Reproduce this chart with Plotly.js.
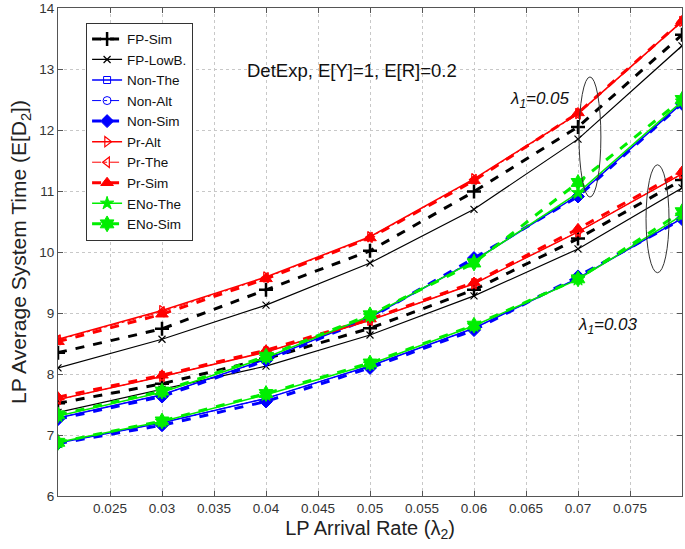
<!DOCTYPE html>
<html>
<head>
<meta charset="utf-8">
<script src="https://cdn.plot.ly/plotly-3.0.1.min.js"></script>
<style>html,body{margin:0;padding:0;background:#fff;}#chart{width:685px;height:549px;}</style>
</head>
<body>
<div id="chart"></div>
<script>
// x values: LP arrival rate lambda_2
const lambda2 = [0.02, 0.03, 0.04, 0.05, 0.06, 0.07, 0.08];
const xTickVals = [0.025, 0.03, 0.035, 0.04, 0.045, 0.05, 0.055, 0.06, 0.065, 0.07, 0.075];
const xTickText = ["0.025", "0.03", "0.035", "0.04", "0.045", "0.05", "0.055", "0.06", "0.065", "0.07", "0.075"];
const seriesNames = ["FP-Sim", "FP-LowB.", "Non-The", "Non-Alt", "Non-Sim", "Pr-Alt", "Pr-The", "Pr-Sim", "ENo-The", "ENo-Sim"];

// lambda_1 = 0.05 group
const fpSim05   = [8.35, 8.74, 9.38, 10.02, 10.99, 12.05, 13.56];
const fpLow05   = [8.10, 8.57, 9.13, 9.82, 10.70, 11.85, 13.38];
const nonThe05  = [7.28, 7.66, 8.24, 8.93, 9.86, 10.93, 12.44];
const nonAlt05  = [7.28, 7.66, 8.24, 8.93, 9.87, 10.93, 12.45];
const nonSim05  = [7.26, 7.63, 8.22, 8.92, 9.90, 10.91, 12.43];
const prAlt05   = [8.57, 9.04, 9.59, 10.25, 11.20, 12.27, 13.78];
const prThe05   = [8.56, 9.02, 9.58, 10.24, 11.19, 12.26, 13.78];
const prSim05   = [8.53, 8.98, 9.56, 10.23, 11.17, 12.28, 13.79];
const enoThe05  = [7.31, 7.70, 8.27, 8.95, 9.85, 10.97, 12.47];
const enoSim05  = [7.33, 7.72, 8.29, 8.97, 9.82, 11.14, 12.50];

// lambda_1 = 0.03 group
const fpSim03   = [7.52, 7.84, 8.25, 8.75, 9.38, 10.22, 11.18];
const fpLow03   = [7.37, 7.75, 8.13, 8.64, 9.28, 10.05, 11.05];
const nonThe03  = [6.87, 7.20, 7.60, 8.13, 8.75, 9.57, 10.55];
const nonAlt03  = [6.87, 7.20, 7.60, 8.13, 8.75, 9.57, 10.55];
const nonSim03  = [6.86, 7.16, 7.55, 8.10, 8.72, 9.60, 10.54];
const prAlt03   = [7.58, 7.96, 8.36, 8.88, 9.48, 10.33, 11.28];
const prThe03   = [7.58, 7.96, 8.36, 8.88, 9.48, 10.33, 11.28];
const prSim03   = [7.62, 7.98, 8.39, 8.90, 9.50, 10.38, 11.32];
const enoThe03  = [6.88, 7.22, 7.66, 8.16, 8.79, 9.55, 10.60];
const enoSim03  = [6.88, 7.23, 7.68, 8.18, 8.80, 9.56, 10.66];

const group05 = [fpSim05, fpLow05, nonThe05, nonAlt05, nonSim05, prAlt05, prThe05, prSim05, enoThe05, enoSim05];
const group03 = [fpSim03, fpLow03, nonThe03, nonAlt03, nonSim03, prAlt03, prThe03, prSim03, enoThe03, enoSim03];

const BLUE = '#0000ff', RED = '#ff0000', GREEN = '#00ee00', BLACK = '#000000';
const styles = [
  {line:{color:BLACK, width:3, dash:'dash'}, marker:{symbol:'cross-thin-open', size:10, line:{color:BLACK, width:2.5}}},
  {line:{color:BLACK, width:1.2, dash:'solid'}, marker:{symbol:'x-thin-open', size:7, line:{color:BLACK, width:1.2}}},
  {line:{color:BLUE, width:1.5, dash:'solid'}, marker:{symbol:'square-open', size:7, color:BLUE, line:{color:BLUE, width:1}}},
  {line:{color:BLUE, width:1, dash:'dashdot'}, marker:{symbol:'circle-open', size:8, color:BLUE, line:{color:BLUE, width:1}}},
  {line:{color:BLUE, width:3, dash:'dash'}, marker:{symbol:'diamond', size:10, color:BLUE, line:{color:BLUE, width:1}}},
  {line:{color:RED, width:1.5, dash:'solid'}, marker:{symbol:'triangle-right-open', size:9, color:RED, line:{color:RED, width:1.2}}},
  {line:{color:RED, width:1, dash:'dashdot'}, marker:{symbol:'triangle-left-open', size:9, color:RED, line:{color:RED, width:1.2}}},
  {line:{color:RED, width:3, dash:'dash'}, marker:{symbol:'triangle-up', size:11, color:RED, line:{color:RED, width:1}}},
  {line:{color:GREEN, width:1.5, dash:'solid'}, marker:{symbol:'star', size:10, color:GREEN, line:{color:GREEN, width:1}}},
  {line:{color:GREEN, width:3, dash:'dash'}, marker:{symbol:'hexagram', size:12, color:GREEN, line:{color:GREEN, width:1}}}
];

const traces = [];
[group05, group03].forEach((grp, gi) => {
  grp.forEach((vals, i) => {
    traces.push({
      x: lambda2, y: vals, type: 'scatter', mode: 'lines+markers',
      name: seriesNames[i], legendgroup: seriesNames[i], showlegend: gi === 0,
      line: styles[i].line, marker: styles[i].marker
    });
  });
});
const ordered = [];
for (let i = 0; i < seriesNames.length; i++) { ordered.push(traces[i]); ordered.push(traces[i + seriesNames.length]); }

const FONT = 'Liberation Sans, Arial, Helvetica, sans-serif';
const axisCommon = {
  showline: true, linecolor: '#555', linewidth: 1, mirror: 'ticks',
  ticks: 'inside', ticklen: 5, tickcolor: '#555',
  showgrid: true, gridcolor: '#c8c8c8', griddash: 'dot', gridwidth: 1,
  zeroline: false, tickfont: {family: FONT, size: 13.5, color: '#333'}
};

const layout = {
  width: 685, height: 549,
  margin: {l: 58, r: 3, t: 8, b: 53},
  paper_bgcolor: '#fff', plot_bgcolor: '#fff',
  font: {family: FONT},
  xaxis: Object.assign({}, axisCommon, {
    range: [0.02, 0.08], tickmode: 'array', tickvals: xTickVals, ticktext: xTickText,
    title: {text: 'LP Arrival Rate (λ<sub>2</sub>)', font: {family: FONT, size: 20, color: '#222'}, standoff: 5}
  }),
  yaxis: Object.assign({}, axisCommon, {
    range: [6, 14], dtick: 1,
    title: {text: 'LP Average System Time (E[D<sub>2</sub>])', font: {family: FONT, size: 21, color: '#222'}, standoff: 6}
  }),
  legend: {
    x: 0.045, y: 0.97, xanchor: 'left', yanchor: 'top',
    bgcolor: '#fff', bordercolor: '#333', borderwidth: 1,
    font: {family: FONT, size: 13.5, color: '#111'}, tracegroupgap: 0
  },
  annotations: [
    {x: 0.0483, y: 12.98, xref: 'x', yref: 'y', text: 'DetExp, E[Y]=1, E[R]=0.2', showarrow: false,
     font: {family: FONT, size: 18.5, color: '#111'}},
    {x: 0.0663, y: 12.49, xref: 'x', yref: 'y', text: '<i>λ<sub>1</sub>=0.05</i>', showarrow: false,
     font: {family: FONT, size: 17, color: '#111'}},
    {x: 0.0729, y: 8.79, xref: 'x', yref: 'y', text: '<i>λ<sub>1</sub>=0.03</i>', showarrow: false,
     font: {family: FONT, size: 17, color: '#111'}}
  ],
  shapes: [
    {type: 'circle', xref: 'x', yref: 'y', x0: 0.0701, x1: 0.0722, y0: 10.90, y1: 12.87, line: {color: '#333', width: 1}},
    {type: 'circle', xref: 'x', yref: 'y', x0: 0.07654, x1: 0.07875, y0: 9.66, y1: 11.43, line: {color: '#333', width: 1}}
  ]
};

Plotly.newPlot('chart', ordered, layout, {displayModeBar: false, staticPlot: true});
</script>
</body>
</html>
